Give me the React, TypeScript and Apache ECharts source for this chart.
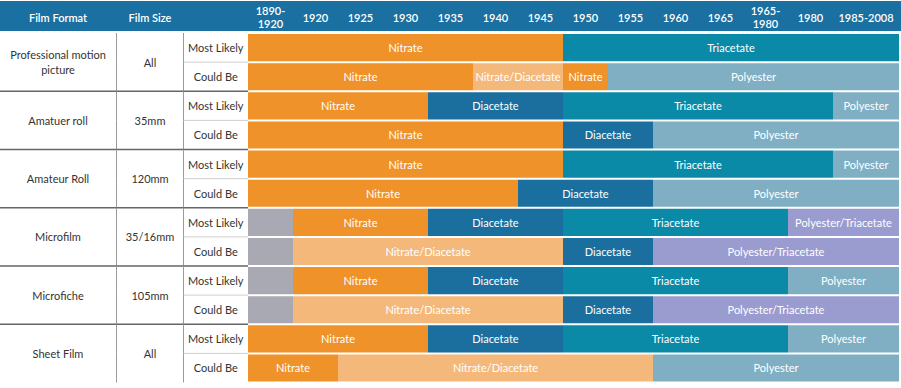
import React, { useEffect, useRef } from "react";
import * as echarts from "echarts";

// ---------- data ----------
const periods = ["1890-\n1920", "1920", "1925", "1930", "1935", "1940", "1945", "1950", "1955", "1960", "1965", "1965-\n1980", "1980", "1985-2008"];
const formats = ["Professional motion\npicture", "Amatuer roll", "Amateur Roll", "Microfilm", "Microfiche", "Sheet Film"];
const sizes = ["All", "35mm", "120mm", "35/16mm", "105mm", "All"];
const likelihoods = ["Most Likely", "Could Be"];
const materials = ["", "Nitrate", "Nitrate/Diacetate", "Diacetate", "Triacetate", "Polyester", "Polyester/Triacetate"];
const materialColors = ["#a9a9b3", "#f0922a", "#f4b97a", "#1b6f9e", "#0b8aa8", "#80afc4", "#9a9cd0"];

// each row: [material index, start period index, end period index (exclusive)]
const proMostLikely = [[1, 0, 7], [4, 7, 14]];
const proCouldBe = [[1, 0, 5], [2, 5, 7], [1, 7, 8], [5, 8, 14]];
const am35MostLikely = [[1, 0, 4], [3, 4, 7], [4, 7, 13], [5, 13, 14]];
const am35CouldBe = [[1, 0, 7], [3, 7, 9], [5, 9, 14]];
const am120MostLikely = [[1, 0, 7], [4, 7, 13], [5, 13, 14]];
const am120CouldBe = [[1, 0, 6], [3, 6, 9], [5, 9, 14]];
const microfilmMostLikely = [[0, 0, 1], [1, 1, 4], [3, 4, 7], [4, 7, 12], [6, 12, 14]];
const microfilmCouldBe = [[0, 0, 1], [2, 1, 7], [3, 7, 9], [6, 9, 14]];
const microficheMostLikely = [[0, 0, 1], [1, 1, 4], [3, 4, 7], [4, 7, 12], [5, 12, 14]];
const microficheCouldBe = [[0, 0, 1], [2, 1, 7], [3, 7, 9], [6, 9, 14]];
const sheetMostLikely = [[1, 0, 4], [3, 4, 7], [4, 7, 12], [5, 12, 14]];
const sheetCouldBe = [[1, 0, 2], [2, 2, 9], [5, 9, 14]];

const rowsData = [
  proMostLikely, proCouldBe,
  am35MostLikely, am35CouldBe,
  am120MostLikely, am120CouldBe,
  microfilmMostLikely, microfilmCouldBe,
  microficheMostLikely, microficheCouldBe,
  sheetMostLikely, sheetCouldBe,
];

// ---------- layout helpers ----------
const LAST_SPAN = 66 / 45; // last period column is wider
const edge = (i: number) => (i <= 13 ? i : 13 + LAST_SPAN * (i - 13));
const FONT = "Lato";

export default function App() {
  const ref = useRef<HTMLDivElement>(null);
  useEffect(() => {
    if (!ref.current) return;
    const chart = echarts.init(ref.current, undefined, { renderer: "svg" });

    const rowIds = rowsData.map((_, i) => String(i));
    const segData: any[] = [];
    rowsData.forEach((row, r) => {
      row.forEach(([m, s, e]) => segData.push([edge(s), edge(e), r, m]));
    });
    const headerData = periods.map((p, i) => [edge(i), edge(i + 1), i]);
    const leftData = rowsData.map((_, r) => [0, r]);

    const X1 = 116.5;
    const X2 = 183.5;
    const X3 = 248;

    chart.setOption({
      animation: false,
      grid: { left: 248, right: 2, top: 33, bottom: 5.5 },
      xAxis: { type: "value", min: 0, max: edge(14), show: false },
      yAxis: { type: "category", data: rowIds, inverse: true, show: false },
      graphic: [
        { type: "rect", shape: { x: 0, y: 1, width: 901, height: 30 }, style: { fill: "#1a70a1" }, z: 0 },
        { type: "text", x: 58, y: 17, style: { text: "Film Format", fill: "#fff", font: `600 11px ${FONT}`, align: "center", verticalAlign: "middle" } },
        { type: "text", x: 150, y: 17, style: { text: "Film Size", fill: "#fff", font: `600 11px ${FONT}`, align: "center", verticalAlign: "middle" } },
      ],
      series: [
        {
          type: "custom",
          coordinateSystem: "cartesian2d",
          data: segData,
          renderItem: (params: any, api: any) => {
            const s = api.coord([api.value(0), api.value(2)]);
            const e = api.coord([api.value(1), api.value(2)]);
            const h = api.size([0, 1])[1];
            const m = api.value(3);
            return {
              type: "group",
              children: [
                {
                  type: "rect",
                  shape: { x: s[0], y: s[1] - h / 2 + 1, width: e[0] - s[0], height: h - 2 },
                  style: { fill: materialColors[m] },
                },
                {
                  type: "text",
                  x: (s[0] + e[0]) / 2,
                  y: s[1],
                  style: { text: materials[m], fill: "#fff", font: `11px ${FONT}`, align: "center", verticalAlign: "middle" },
                },
              ],
            };
          },
        },
        {
          type: "custom",
          coordinateSystem: "cartesian2d",
          data: headerData,
          clip: false,
          renderItem: (params: any, api: any) => {
            const s = api.coord([api.value(0), 0]);
            const e = api.coord([api.value(1), 0]);
            return {
              type: "text",
              x: (s[0] + e[0]) / 2,
              y: 17,
              style: { text: periods[api.value(2)], fill: "#fff", font: `600 11px ${FONT}`, align: "center", verticalAlign: "middle", lineHeight: 12.5 },
            };
          },
        },
        {
          type: "custom",
          coordinateSystem: "cartesian2d",
          data: leftData,
          clip: false,
          renderItem: (params: any, api: any) => {
            const r = api.value(1);
            const c = api.coord([0, r]);
            const h = api.size([0, 1])[1];
            const top = c[1] - h / 2;
            const bottom = c[1] + h / 2;
            const children: any[] = [
              { type: "text", x: (X2 + X3) / 2, y: c[1], style: { text: likelihoods[r % 2], fill: "#333", font: `11px ${FONT}`, align: "center", verticalAlign: "middle" } },
              { type: "line", shape: { x1: X1, y1: top, x2: X1, y2: bottom }, style: { stroke: "#9a9a9a", lineWidth: 1 } },
              { type: "line", shape: { x1: X2, y1: top, x2: X2, y2: bottom }, style: { stroke: "#9a9a9a", lineWidth: 1 } },
            ];
            if (r % 2 === 0) {
              const g = r / 2;
              children.push(
                { type: "text", x: 58, y: bottom, style: { text: formats[g], fill: "#333", font: `11px ${FONT}`, align: "center", verticalAlign: "middle", lineHeight: 15 } },
                { type: "text", x: 150, y: bottom, style: { text: sizes[g], fill: "#333", font: `11px ${FONT}`, align: "center", verticalAlign: "middle" } },
                { type: "line", shape: { x1: X2, y1: bottom, x2: X3, y2: bottom }, style: { stroke: "#cfcfcf", lineWidth: 1 } },
              );
            } else if (r < rowsData.length - 1) {
              children.push({ type: "line", shape: { x1: 0, y1: bottom, x2: X3, y2: bottom }, style: { stroke: "#666", lineWidth: 1.5 } });
            }
            return { type: "group", children };
          },
        },
      ],
    });
    return () => chart.dispose();
  }, []);
  return <div ref={ref} style={{ position: "fixed", left: 0, top: 0, width: 901, height: 388, background: "#fff" }} />;
}
